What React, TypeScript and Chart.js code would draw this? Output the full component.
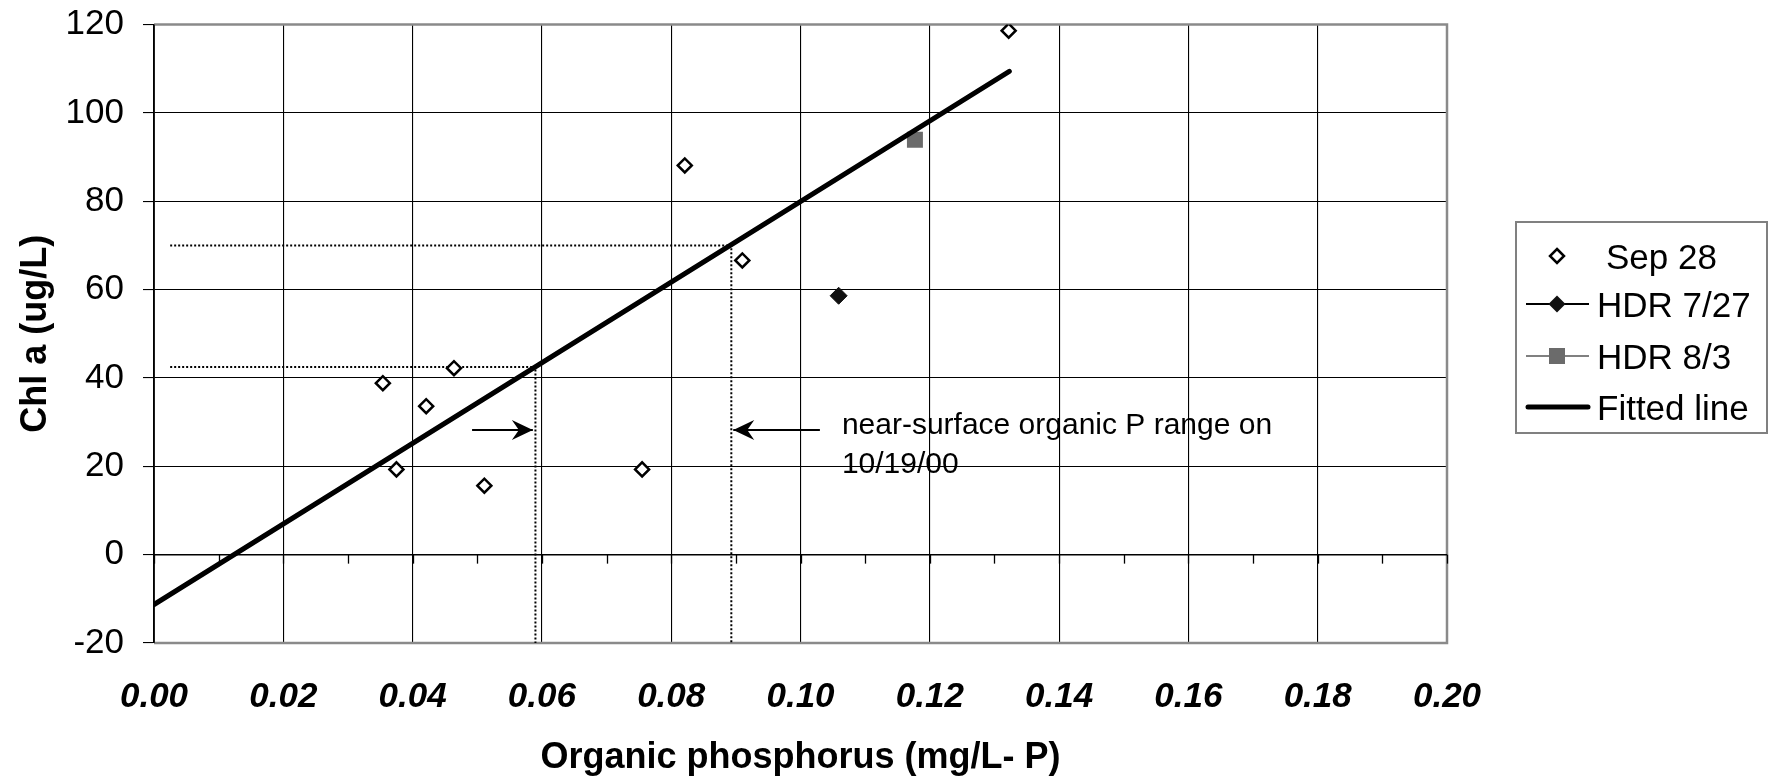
import React, { useEffect, useRef } from "react";
import { Chart, registerables } from "chart.js";

Chart.register(...registerables);

const FONT = "'Liberation Sans', Arial, Helvetica, sans-serif";

// ---- data ----
const sepX = [0.0354, 0.0375, 0.0421, 0.0464, 0.0511, 0.0755, 0.0821, 0.091, 0.1322];
const sepY = [38.8, 19.3, 33.6, 42.2, 15.6, 19.3, 88.1, 66.6, 118.6];
const hdr727X = [0.1059];
const hdr727Y = [58.6];
const hdr83X = [0.1177];
const hdr83Y = [93.9];
const fitX = [0, 0.1323];
const fitY = [-11.3, 109.4];
const guideLowX = [0.0025, 0.059, 0.059];
const guideLowY = [42.5, 42.5, -20];
const guideHighX = [0.0025, 0.0893, 0.0893];
const guideHighY = [70, 70, -20];
const arrowRightX = [0.0492, 0.0586];
const arrowRightY = [28.2, 28.2];
const arrowLeftX = [0.103, 0.0896];
const arrowLeftY = [28.2, 28.2];
const xTickValues = [0, 0.02, 0.04, 0.06, 0.08, 0.1, 0.12, 0.14, 0.16, 0.18, 0.2];
const xMinorTicks = [0.01, 0.03, 0.05, 0.07, 0.09, 0.11, 0.13, 0.15, 0.17, 0.19];
const yTickValues = [-20, 0, 20, 40, 60, 80, 100, 120];
const legendLabels = ["Sep 28", "HDR 7/27", "HDR 8/3", "Fitted line"];
const noteLines = ["near-surface organic P range on", "10/19/00"];
const noteX = 0.1064;
const noteY = 27.4;
const xTitle = "Organic phosphorus (mg/L- P)";
const yTitle = "Chl a (ug/L)";

const pts = (xs: number[], ys: number[]) => xs.map((x, i) => ({ x, y: ys[i] }));

function diamond(ctx: CanvasRenderingContext2D, x: number, y: number, r: number) {
  ctx.beginPath();
  ctx.moveTo(x, y - r);
  ctx.lineTo(x + r, y);
  ctx.lineTo(x, y + r);
  ctx.lineTo(x - r, y);
  ctx.closePath();
}

function arrowHead(ctx: CanvasRenderingContext2D, fx: number, fy: number, tx: number, ty: number) {
  const ang = Math.atan2(ty - fy, tx - fx);
  const L = 21, W = 10, N = 7;
  ctx.save();
  ctx.translate(tx, ty);
  ctx.rotate(ang);
  ctx.beginPath();
  ctx.moveTo(0, 0);
  ctx.lineTo(-L, -W);
  ctx.lineTo(-L + N, 0);
  ctx.lineTo(-L, W);
  ctx.closePath();
  ctx.fillStyle = "#000";
  ctx.fill();
  ctx.restore();
}

const framePlugin = {
  id: "frame",
  beforeDatasetsDraw(chart: any) {
    const { ctx, chartArea } = chart;
    const xs = chart.scales.x;
    const ys = chart.scales.y;
    const { left, right, top, bottom } = chartArea;
    ctx.save();
    ctx.strokeStyle = "#8a8a8a";
    ctx.lineWidth = 2.5;
    ctx.beginPath();
    ctx.moveTo(left, top);
    ctx.lineTo(right, top);
    ctx.lineTo(right, bottom);
    ctx.lineTo(left, bottom);
    ctx.stroke();
    ctx.strokeStyle = "#000";
    ctx.lineWidth = 1.5;
    ctx.beginPath();
    ctx.moveTo(left, top);
    ctx.lineTo(left, bottom);
    ctx.stroke();
    const y0 = ys.getPixelForValue(0);
    ctx.lineWidth = 1.5;
    ctx.beginPath();
    ctx.moveTo(left, y0);
    ctx.lineTo(right, y0);
    ctx.stroke();
    ctx.lineWidth = 1.3;
    [...xTickValues, ...xMinorTicks].forEach((v) => {
      const px = Math.round(xs.getPixelForValue(v)) + 0.5;
      ctx.beginPath();
      ctx.moveTo(px, y0);
      ctx.lineTo(px, y0 + 9);
      ctx.stroke();
    });
    ctx.restore();
  },
  afterDatasetsDraw(chart: any) {
    const { ctx } = chart;
    const xs = chart.scales.x;
    const ys = chart.scales.y;
    ctx.save();
    [4, 5].forEach((i) => {
      const d = chart.getDatasetMeta(i).data;
      const a = d[d.length - 2];
      const b = d[d.length - 1];
      arrowHead(ctx, a.x, a.y, b.x, b.y);
    });
    ctx.fillStyle = "#000";
    ctx.font = `30px ${FONT}`;
    ctx.textAlign = "left";
    ctx.textBaseline = "alphabetic";
    const nx = xs.getPixelForValue(noteX);
    const ny = ys.getPixelForValue(noteY);
    noteLines.forEach((t, i) => ctx.fillText(t, nx, ny + i * 39));

    // legend
    const bx = 1516, by = 222, bw = 251, bh = 211;
    ctx.fillStyle = "#fff";
    ctx.fillRect(bx, by, bw, bh);
    ctx.strokeStyle = "#808080";
    ctx.lineWidth = 2;
    ctx.strokeRect(bx, by, bw, bh);
    const rows = [256, 304, 356, 407];
    const sx = 1557;
    diamond(ctx, sx, rows[0], 7);
    ctx.fillStyle = "#fff";
    ctx.fill();
    ctx.lineWidth = 2.5;
    ctx.strokeStyle = "#000";
    ctx.stroke();
    ctx.lineWidth = 2;
    ctx.beginPath();
    ctx.moveTo(1526, rows[1]);
    ctx.lineTo(1589, rows[1]);
    ctx.stroke();
    diamond(ctx, sx, rows[1], 8.5);
    ctx.fillStyle = "#111";
    ctx.fill();
    ctx.strokeStyle = "#808080";
    ctx.beginPath();
    ctx.moveTo(1526, rows[2]);
    ctx.lineTo(1589, rows[2]);
    ctx.stroke();
    ctx.fillStyle = "#6b6b6b";
    ctx.fillRect(sx - 8, rows[2] - 8, 16, 16);
    ctx.strokeStyle = "#000";
    ctx.lineWidth = 5;
    ctx.lineCap = "round";
    ctx.beginPath();
    ctx.moveTo(1528, rows[3]);
    ctx.lineTo(1588, rows[3]);
    ctx.stroke();
    ctx.fillStyle = "#000";
    ctx.font = `35px ${FONT}`;
    const tx = [1606, 1597, 1597, 1597];
    legendLabels.forEach((t, i) => ctx.fillText(t, tx[i], rows[i] + 12.5));
    ctx.restore();
  },
};

export default function App() {
  const ref = useRef<HTMLCanvasElement | null>(null);
  useEffect(() => {
    if (!ref.current) return;
    const dotted = {
      showLine: true,
      borderColor: "#000",
      borderWidth: 2,
      borderDash: [2, 2],
      pointRadius: 0,
      fill: false,
      order: 3,
    };
    const chart = new Chart(ref.current, {
      type: "scatter",
      data: {
        datasets: [
          {
            label: legendLabels[0],
            data: pts(sepX, sepY),
            pointStyle: "rectRot",
            pointRadius: 7,
            pointBorderWidth: 2.5,
            pointBackgroundColor: "#fff",
            pointBorderColor: "#000",
            order: 1,
          },
          {
            label: legendLabels[1],
            data: pts(hdr727X, hdr727Y),
            pointStyle: "rectRot",
            pointRadius: 8.5,
            pointBorderWidth: 1,
            pointBackgroundColor: "#111",
            pointBorderColor: "#111",
            order: 1,
          },
          {
            label: legendLabels[2],
            data: pts(hdr83X, hdr83Y),
            pointStyle: "rect",
            pointRadius: 11.3,
            pointBorderWidth: 0,
            pointBackgroundColor: "#6b6b6b",
            pointBorderColor: "#6b6b6b",
            order: 1,
          },
          {
            label: legendLabels[3],
            data: pts(fitX, fitY),
            showLine: true,
            borderColor: "#000",
            borderWidth: 5,
            borderCapStyle: "round",
            pointRadius: 0,
            order: 0,
          },
          {
            label: "arrowRight",
            data: pts(arrowRightX, arrowRightY),
            showLine: true,
            borderColor: "#000",
            borderWidth: 2,
            pointRadius: 0,
            order: 2,
          },
          {
            label: "arrowLeft",
            data: pts(arrowLeftX, arrowLeftY),
            showLine: true,
            borderColor: "#000",
            borderWidth: 2,
            pointRadius: 0,
            order: 2,
          },
          { label: "guideLow", data: pts(guideLowX, guideLowY), ...dotted },
          { label: "guideHigh", data: pts(guideHighX, guideHighY), ...dotted },
        ] as any,
      },
      options: {
        responsive: false,
        devicePixelRatio: 1,
        animation: false,
        events: [],
        layout: { padding: { left: 0, top: 24.5, right: 328, bottom: 0 } },
        plugins: { legend: { display: false }, tooltip: { enabled: false } },
        scales: {
          x: {
            type: "linear",
            min: 0,
            max: 0.2,
            position: "bottom",
            afterBuildTicks: (s: any) => {
              s.ticks = xTickValues.map((v) => ({ value: v }));
            },
            afterFit: (s: any) => {
              s.height = 134;
              s.paddingLeft = 0;
              s.paddingRight = 0;
            },
            ticks: {
              callback: (v: any) => Number(v).toFixed(2),
              font: { family: FONT, size: 35, weight: "bold", style: "italic", lineHeight: 1.2 },
              color: "#000",
              padding: 33,
              maxRotation: 0,
              autoSkip: false,
            },
            grid: { color: "#000", lineWidth: 1.1, drawTicks: false },
            border: { display: false },
            title: {
              display: true,
              text: xTitle,
              color: "#000",
              font: { family: FONT, size: 36, weight: "bold", lineHeight: 1 },
              padding: { top: 0, bottom: 1 },
            },
          },
          y: {
            type: "linear",
            min: -20,
            max: 120,
            afterBuildTicks: (s: any) => {
              s.ticks = yTickValues.map((v) => ({ value: v }));
            },
            afterFit: (s: any) => {
              s.width = 154;
              s.paddingTop = 0;
              s.paddingBottom = 0;
            },
            ticks: {
              font: { family: FONT, size: 35, lineHeight: 1.2 },
              color: "#000",
              padding: 19,
            },
            grid: { color: "#000", lineWidth: 1.1, drawTicks: true, tickLength: 11 },
            border: { display: true, color: "#000", width: 1.5 },
            title: {
              display: true,
              text: yTitle,
              color: "#000",
              font: { family: FONT, size: 36, weight: "bold", lineHeight: 1 },
              padding: { top: 18, bottom: 0 },
            },
          },
        },
      } as any,
      plugins: [framePlugin],
    });
    return () => chart.destroy();
  }, []);
  return (
    <div style={{ position: "absolute", left: 0, top: 0, width: 1775, height: 777, background: "#fff" }}>
      <canvas ref={ref} width={1775} height={777} style={{ display: "block" }} />
    </div>
  );
}
